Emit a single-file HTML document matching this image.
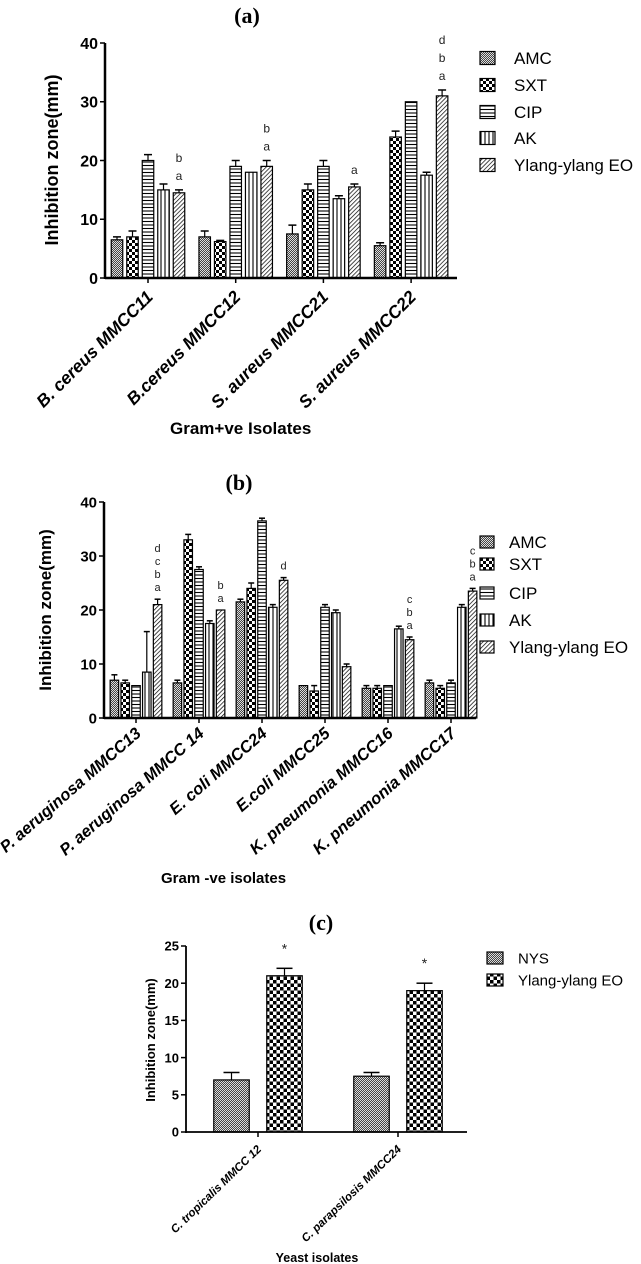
<!DOCTYPE html>
<html><head><meta charset="utf-8"><style>
body{margin:0;background:#fff}
svg{display:block;font-family:"Liberation Sans",sans-serif}
</style></head><body>
<svg id="fig" width="641" height="1264" viewBox="0 0 641 1264" xmlns="http://www.w3.org/2000/svg">
<defs>
<pattern id="p-amc" width="2" height="2" patternUnits="userSpaceOnUse"><rect width="2" height="2" fill="#444"/><rect width="1" height="1" fill="#ddd"/><rect x="1" y="1" width="1" height="1" fill="#ddd"/></pattern>
<pattern id="p-sxt" width="6" height="6" patternUnits="userSpaceOnUse"><rect width="6" height="6" fill="#fff"/><rect width="3" height="3" fill="#000"/><rect x="3" y="3" width="3" height="3" fill="#000"/></pattern>
<pattern id="p-sxt2" width="7" height="7" patternUnits="userSpaceOnUse"><rect width="7" height="7" fill="#fff"/><rect width="3.5" height="3.5" fill="#000"/><rect x="3.5" y="3.5" width="3.5" height="3.5" fill="#000"/></pattern>
<pattern id="p-cip" width="4" height="3.5" patternUnits="userSpaceOnUse"><rect width="4" height="3.5" fill="#fff"/><line x1="0" y1="1" x2="4" y2="1" stroke="#000" stroke-width="1.1"/></pattern>
<pattern id="p-ak" width="4" height="4" patternUnits="userSpaceOnUse"><rect width="4" height="4" fill="#fff"/><line x1="1" y1="0" x2="1" y2="4" stroke="#000" stroke-width="1.1"/></pattern>
<pattern id="p-eo" width="3" height="3" patternUnits="userSpaceOnUse" patternTransform="rotate(45)"><rect width="3" height="3" fill="#fff"/><line x1="0" y1="0" x2="0" y2="3" stroke="#000" stroke-width="1.4"/></pattern>
</defs>
</svg>
<script>
// ---- data (a)
const catsA = ["B. cereus MMCC11","B.cereus MMCC12","S. aureus MMCC21","S. aureus MMCC22"];
const seriesA = ["AMC","SXT","CIP","AK","Ylang-ylang EO"];
const valsA = [[6.5,7,20,15,14.5],[7,6.2,19,18,19],[7.5,15,19,13.5,15.5],[5.5,24,30,17.5,31]];
const errsA = [[0.5,1,1,1,0.5],[1,0.2,1,0,1],[1.5,1,1,0.5,0.5],[0.5,1,0,0.5,1]];
const lettersA = [["b","a"],["b","a"],["a"],["d","b","a"]];
const ticksA = [0,10,20,30,40];
// ---- data (b)
const catsB = ["P. aeruginosa MMCC13","P. aeruginosa MMCC 14","E. coli MMCC24","E.coli MMCC25","K. pneumonia MMCC16","K. pneumonia MMCC17"];
const seriesB = ["AMC","SXT","CIP","AK","Ylang-ylang EO"];
const valsB = [[7,6.5,6,8.5,21],[6.5,33,27.5,17.5,20],[21.5,24,36.5,20.5,25.5],[6,5,20.5,19.5,9.5],[5.5,5.5,6,16.5,14.5],[6.5,5.5,6.5,20.5,23.5]];
const errsB = [[1,0.5,0,7.5,1],[0.5,1,0.5,0.5,0],[0.5,1,0.5,0.5,0.5],[0,1,0.5,0.5,0.5],[0.5,0.5,0,0.5,0.5],[0.5,0.5,0.5,0.5,0.5]];
const lettersB = [["d","c","b","a"],["b","a"],["d"],[],["c","b","a"],["c","b","a"]];
const ticksB = [0,10,20,30,40];
// ---- data (c)
const catsC = ["C. tropicalis MMCC 12","C. parapsilosis MMCC24"];
const seriesC = ["NYS","Ylang-ylang EO"];
const valsC = [[7,21],[7.5,19]];
const errsC = [[1,1],[0.5,1]];
const lettersC = [["*"],["*"]];
const ticksC = [0,5,10,15,20,25];

const NS="http://www.w3.org/2000/svg";
const svg=document.getElementById('fig');
function el(tag,attrs,parent,text){const e=document.createElementNS(NS,tag);for(const k in attrs)e.setAttribute(k,attrs[k]);if(text!==undefined)e.textContent=text;(parent||svg).appendChild(e);return e;}

function chart(cfg){
  const g=el('g',{},svg);
  
  
  const y=v=>cfg.y0-(v-0)/(cfg.ymax)*(cfg.y0-cfg.yTop);
  const t=el('text',{x:cfg.titleX,y:cfg.titleY,'font-family':'"Liberation Serif",serif','font-weight':'bold','font-size':cfg.titleSize,'text-anchor':'middle'},g,cfg.title);
  
  
  cfg.vals.forEach((row,i)=>{
    const cx=cfg.groupX(i);
    row.forEach((v,j)=>{
      const bx=cx+cfg.offs[j]-cfg.bw/2;
      const r=el('rect',{x:bx,y:y(v),width:cfg.bw,height:cfg.y0-y(v),fill:'url(#'+cfg.pats[j]+')',stroke:'#000','stroke-width':1.2},g);
      
      
      const e=cfg.errs[i][j];
      if(e>0){
        const bxc=bx+cfg.bw/2;
        el('line',{x1:bxc,y1:y(v),x2:bxc,y2:y(v+e),stroke:'#000','stroke-width':1.2},g);
        el('line',{x1:bxc-cfg.cap,y1:y(v+e),x2:bxc+cfg.cap,y2:y(v+e),stroke:'#000','stroke-width':1.5},g);
      }
    });
    const lastIdx=row.length-1;
    const lx=cx+cfg.offs[lastIdx];
    const top=y(row[lastIdx]+cfg.errs[i][lastIdx]);
    const ls=cfg.letters[i];
    ls.forEach((L,k)=>{
      const n=ls.length-1-k;
      const tt=el('text',{x:lx,y:top-cfg.letGap-n*cfg.letStep,'font-size':cfg.letSize,'text-anchor':'middle',fill:'#222'},g,L);
      
      
    });
    el('line',{x1:cx,y1:cfg.y0,x2:cx,y2:cfg.y0+5,stroke:'#000','stroke-width':1.5},g);
    const lx2=cx+cfg.labDx, ly2=cfg.y0+cfg.labDy;
    const lab=el('text',{x:lx2,y:ly2,'font-size':cfg.catSize,'font-weight':'bold','font-style':'italic','text-anchor':'end',transform:`rotate(${cfg.labAng} ${lx2} ${ly2})`},g,cfg.cats[i]);
    
    
  });
  const ax=el('line',{x1:cfg.x0,y1:cfg.y0,x2:cfg.xEnd,y2:cfg.y0,stroke:'#000','stroke-width':cfg.axW},g);
  
  
  const ay=el('line',{x1:cfg.x0,y1:cfg.y0+1,x2:cfg.x0,y2:cfg.yTop,stroke:'#000','stroke-width':cfg.axW},g);
  
  
  cfg.ticks.forEach(v=>{
    el('line',{x1:cfg.x0-5,y1:y(v),x2:cfg.x0,y2:y(v),stroke:'#000','stroke-width':1.5},g);
    const tl=el('text',{x:cfg.x0-7,y:y(v)+cfg.tickSize*0.36,'font-size':cfg.tickSize,'font-weight':'bold','text-anchor':'end'},g,String(v));
    
    
  });
  const yl=el('text',{x:cfg.ylX,y:cfg.ylY,'font-size':cfg.ylSize,'font-weight':'bold','text-anchor':'middle',transform:`rotate(-90 ${cfg.ylX} ${cfg.ylY})`},g,'Inhibition zone(mm)');
  
  
  const xl=el('text',{x:cfg.xlX,y:cfg.xlY,'font-size':cfg.xlSize,'font-weight':'bold','text-anchor':cfg.xlAnchor},g,cfg.xTitle);
  
  
  cfg.series.forEach((s,j)=>{
    const ly=cfg.legY[j];
    const lg=el('g',{},g);
    
    
    el('rect',{x:cfg.legX,y:ly-cfg.legH/2,width:cfg.legW,height:cfg.legH,fill:'url(#'+cfg.pats[j]+')',stroke:'#000','stroke-width':1.2},lg);
    el('text',{x:cfg.legTX,y:ly+cfg.legSize*0.36,'font-size':cfg.legSize},lg,s);
  });
}

chart({name:'chart-a',title:'(a)',titleX:247,titleY:23,titleSize:22,
  cats:catsA,series:seriesA,vals:valsA,errs:errsA,letters:lettersA,ticks:ticksA,
  x0:105,xEnd:457,y0:278,yTop:43,ymax:40,groupX:i=>148+i*87.7,offs:[-31,-15.5,0,15.5,31],bw:11.5,cap:4,
  pats:['p-amc','p-sxt','p-cip','p-ak','p-eo'],axW:2.5,
  letGap:10,letStep:18,letSize:12,tickSize:16,catSize:17.5,labDx:6,labDy:20,labAng:-45,
  ylX:58,ylY:160,ylSize:18,xTitle:'Gram+ve Isolates',xlX:170,xlY:434,xlSize:17,xlAnchor:'start',
  legX:480,legW:15,legH:13,legTX:514,legY:[58,85,112,138,165],legSize:17});

chart({name:'chart-b',title:'(b)',titleX:239,titleY:490,titleSize:22,
  cats:catsB,series:seriesB,vals:valsB,errs:errsB,letters:lettersB,ticks:ticksB,
  x0:104,xEnd:476,y0:718,yTop:502,ymax:40,groupX:i=>136+i*63,offs:[-21.6,-10.8,0,10.8,21.6],bw:8.5,cap:3,
  pats:['p-amc','p-sxt','p-cip','p-ak','p-eo'],axW:2.5,
  letGap:8,letStep:13,letSize:11,tickSize:15,catSize:16.5,labDx:6,labDy:17,labAng:-41,
  ylX:51,ylY:610,ylSize:17,xTitle:'Gram -ve isolates',xlX:161,xlY:883,xlSize:15,xlAnchor:'start',
  legX:480,legW:14,legH:12,legTX:509,legY:[542,564,593,620,647],legSize:17});

chart({name:'chart-c',title:'(c)',titleX:321,titleY:930,titleSize:22,
  cats:catsC,series:seriesC,vals:valsC,errs:errsC,letters:lettersC,ticks:ticksC,
  x0:186,xEnd:467,y0:1132,yTop:946,ymax:25,groupX:i=>258+i*140,offs:[-26.5,26.5],bw:35.5,cap:8,
  pats:['p-amc','p-sxt2'],axW:1.8,
  letGap:15,letStep:12,letSize:14,tickSize:13,catSize:11.5,labDx:4,labDy:18,labAng:-44,
  ylX:155,ylY:1040,ylSize:13,xTitle:'Yeast isolates',xlX:317,xlY:1262,xlSize:12.5,xlAnchor:'middle',
  legX:487,legW:16,legH:12,legTX:518,legY:[958,980],legSize:15});
</script>
</body></html>
